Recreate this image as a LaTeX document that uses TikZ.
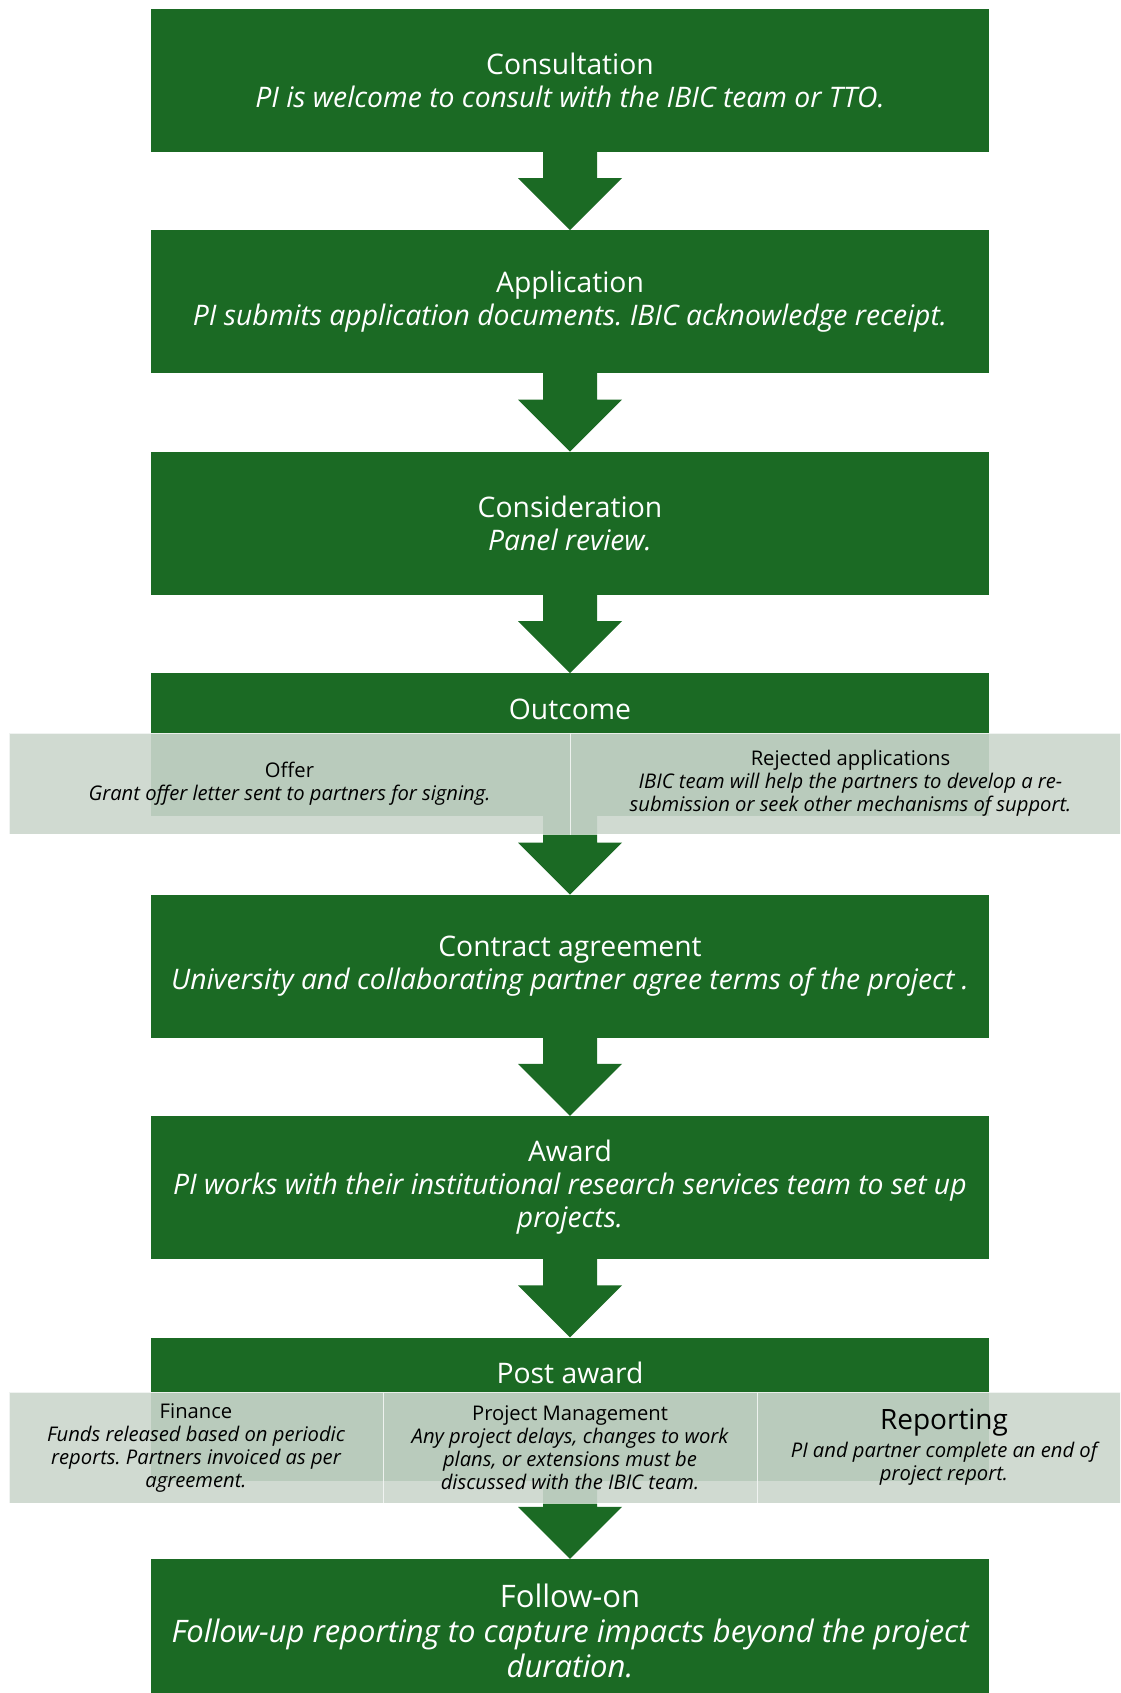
\documentclass[tikz,border=0pt]{standalone}
\usepackage{fontspec}
\setmainfont{Open Sans}
\frenchspacing
\usetikzlibrary{calc}
\definecolor{dkgreen}{RGB}{27,106,36}
\definecolor{bandc}{RGB}{203,214,205}
\tikzset{
  stepbox/.style={fill=dkgreen, minimum width=838pt, minimum height=143pt,
    text=white, align=center, inner sep=0pt, font=\fontsize{28.3}{33}\selectfont},
  steptitle/.style={text=white, inner sep=0pt, font=\fontsize{28.3}{33}\selectfont},
  cellbox/.style={fill=bandc, fill opacity=0.9, text opacity=1, draw=white, draw opacity=0.7,
    line width=1pt, align=center, inner sep=0pt, text=black,
    font=\fontsize{20.2}{23}\selectfont},
}
\newcommand\flowarrow[2]{%
  \fill[dkgreen] ([xshift=-27pt,yshift=1pt]#1.south) -- ([xshift=-27pt,yshift=-26pt]#1.south)
    -- ([xshift=-52pt,yshift=-26pt]#1.south) -- (#2.north)
    -- ([xshift=52pt,yshift=-26pt]#1.south) -- ([xshift=27pt,yshift=-26pt]#1.south)
    -- ([xshift=27pt,yshift=1pt]#1.south) -- cycle;}
\begin{document}
\begin{tikzpicture}[x=1pt,y=-1pt]
\clip (0,0) rectangle (1120,1693);
\fill[white] (0,0) rectangle (1120,1693);
% step boxes
\node[stepbox] (cons) at (570,80.5) {Consultation\\\itshape PI is welcome to consult with the IBIC team or TTO.};
\node[stepbox] (appl) at (570,301.9) {Application\\\itshape PI submits application documents. IBIC acknowledge receipt.};
\node[stepbox] (consid) at (570,523.4) {Consideration\\\itshape Panel review.};
\node[stepbox] (outc) at (570,744.8) {};
\node[steptitle] (outct) at (570,709) {Outcome};
\node[stepbox] (contr) at (570,966.2) {Contract agreement\\\itshape University and collaborating partner agree terms of the project .};
\node[stepbox] (award) at (570,1187.6) {Award\\\itshape PI works with their institutional research services team to set up\\\itshape projects.};
\node[stepbox] (post) at (570,1409.1) {};
\node[steptitle] (postt) at (570,1373) {Post award};
\node[stepbox, font=\fontsize{31}{35}\selectfont] (follow) at (570,1630.5) {Follow-on\\\itshape Follow-up reporting to capture impacts beyond the project\\\itshape duration.};
% arrows
\flowarrow{cons}{appl}
\flowarrow{appl}{consid}
\flowarrow{consid}{outc}
\flowarrow{outc}{contr}
\flowarrow{contr}{award}
\flowarrow{award}{post}
\flowarrow{post}{follow}
% outcome band
\node[cellbox, minimum width=561pt, minimum height=101pt] (offer) at (289.5,783.5)
  {Offer\\\itshape Grant offer letter sent to partners for signing.};
\node[cellbox, minimum width=561pt, minimum height=101pt] (rej) at (850.5,783.5)
  {Rejected applications\\\itshape IBIC team will help the partners to develop a re-\\\itshape submission or seek other mechanisms of support.};
% post award band
\node[cellbox, minimum width=374pt, minimum height=111pt] (fin) at (196,1447.5)
  {Finance\\\itshape Funds released based on periodic\\\itshape reports. Partners invoiced as per\\\itshape agreement.};
\node[cellbox, minimum width=374pt, minimum height=111pt] (pm) at (570,1447.5)
  {Project Management\\\itshape Any project delays, changes to work\\\itshape plans, or extensions must be\\\itshape discussed with the IBIC team.};
\node[cellbox, minimum width=374pt, minimum height=111pt] (rep) at (944,1447.5)
  {\fontsize{28}{28}\selectfont Reporting\\[5pt]\fontsize{20.2}{23}\selectfont\itshape PI and partner complete an end of\\\itshape project report.};
\end{tikzpicture}
\end{document}
